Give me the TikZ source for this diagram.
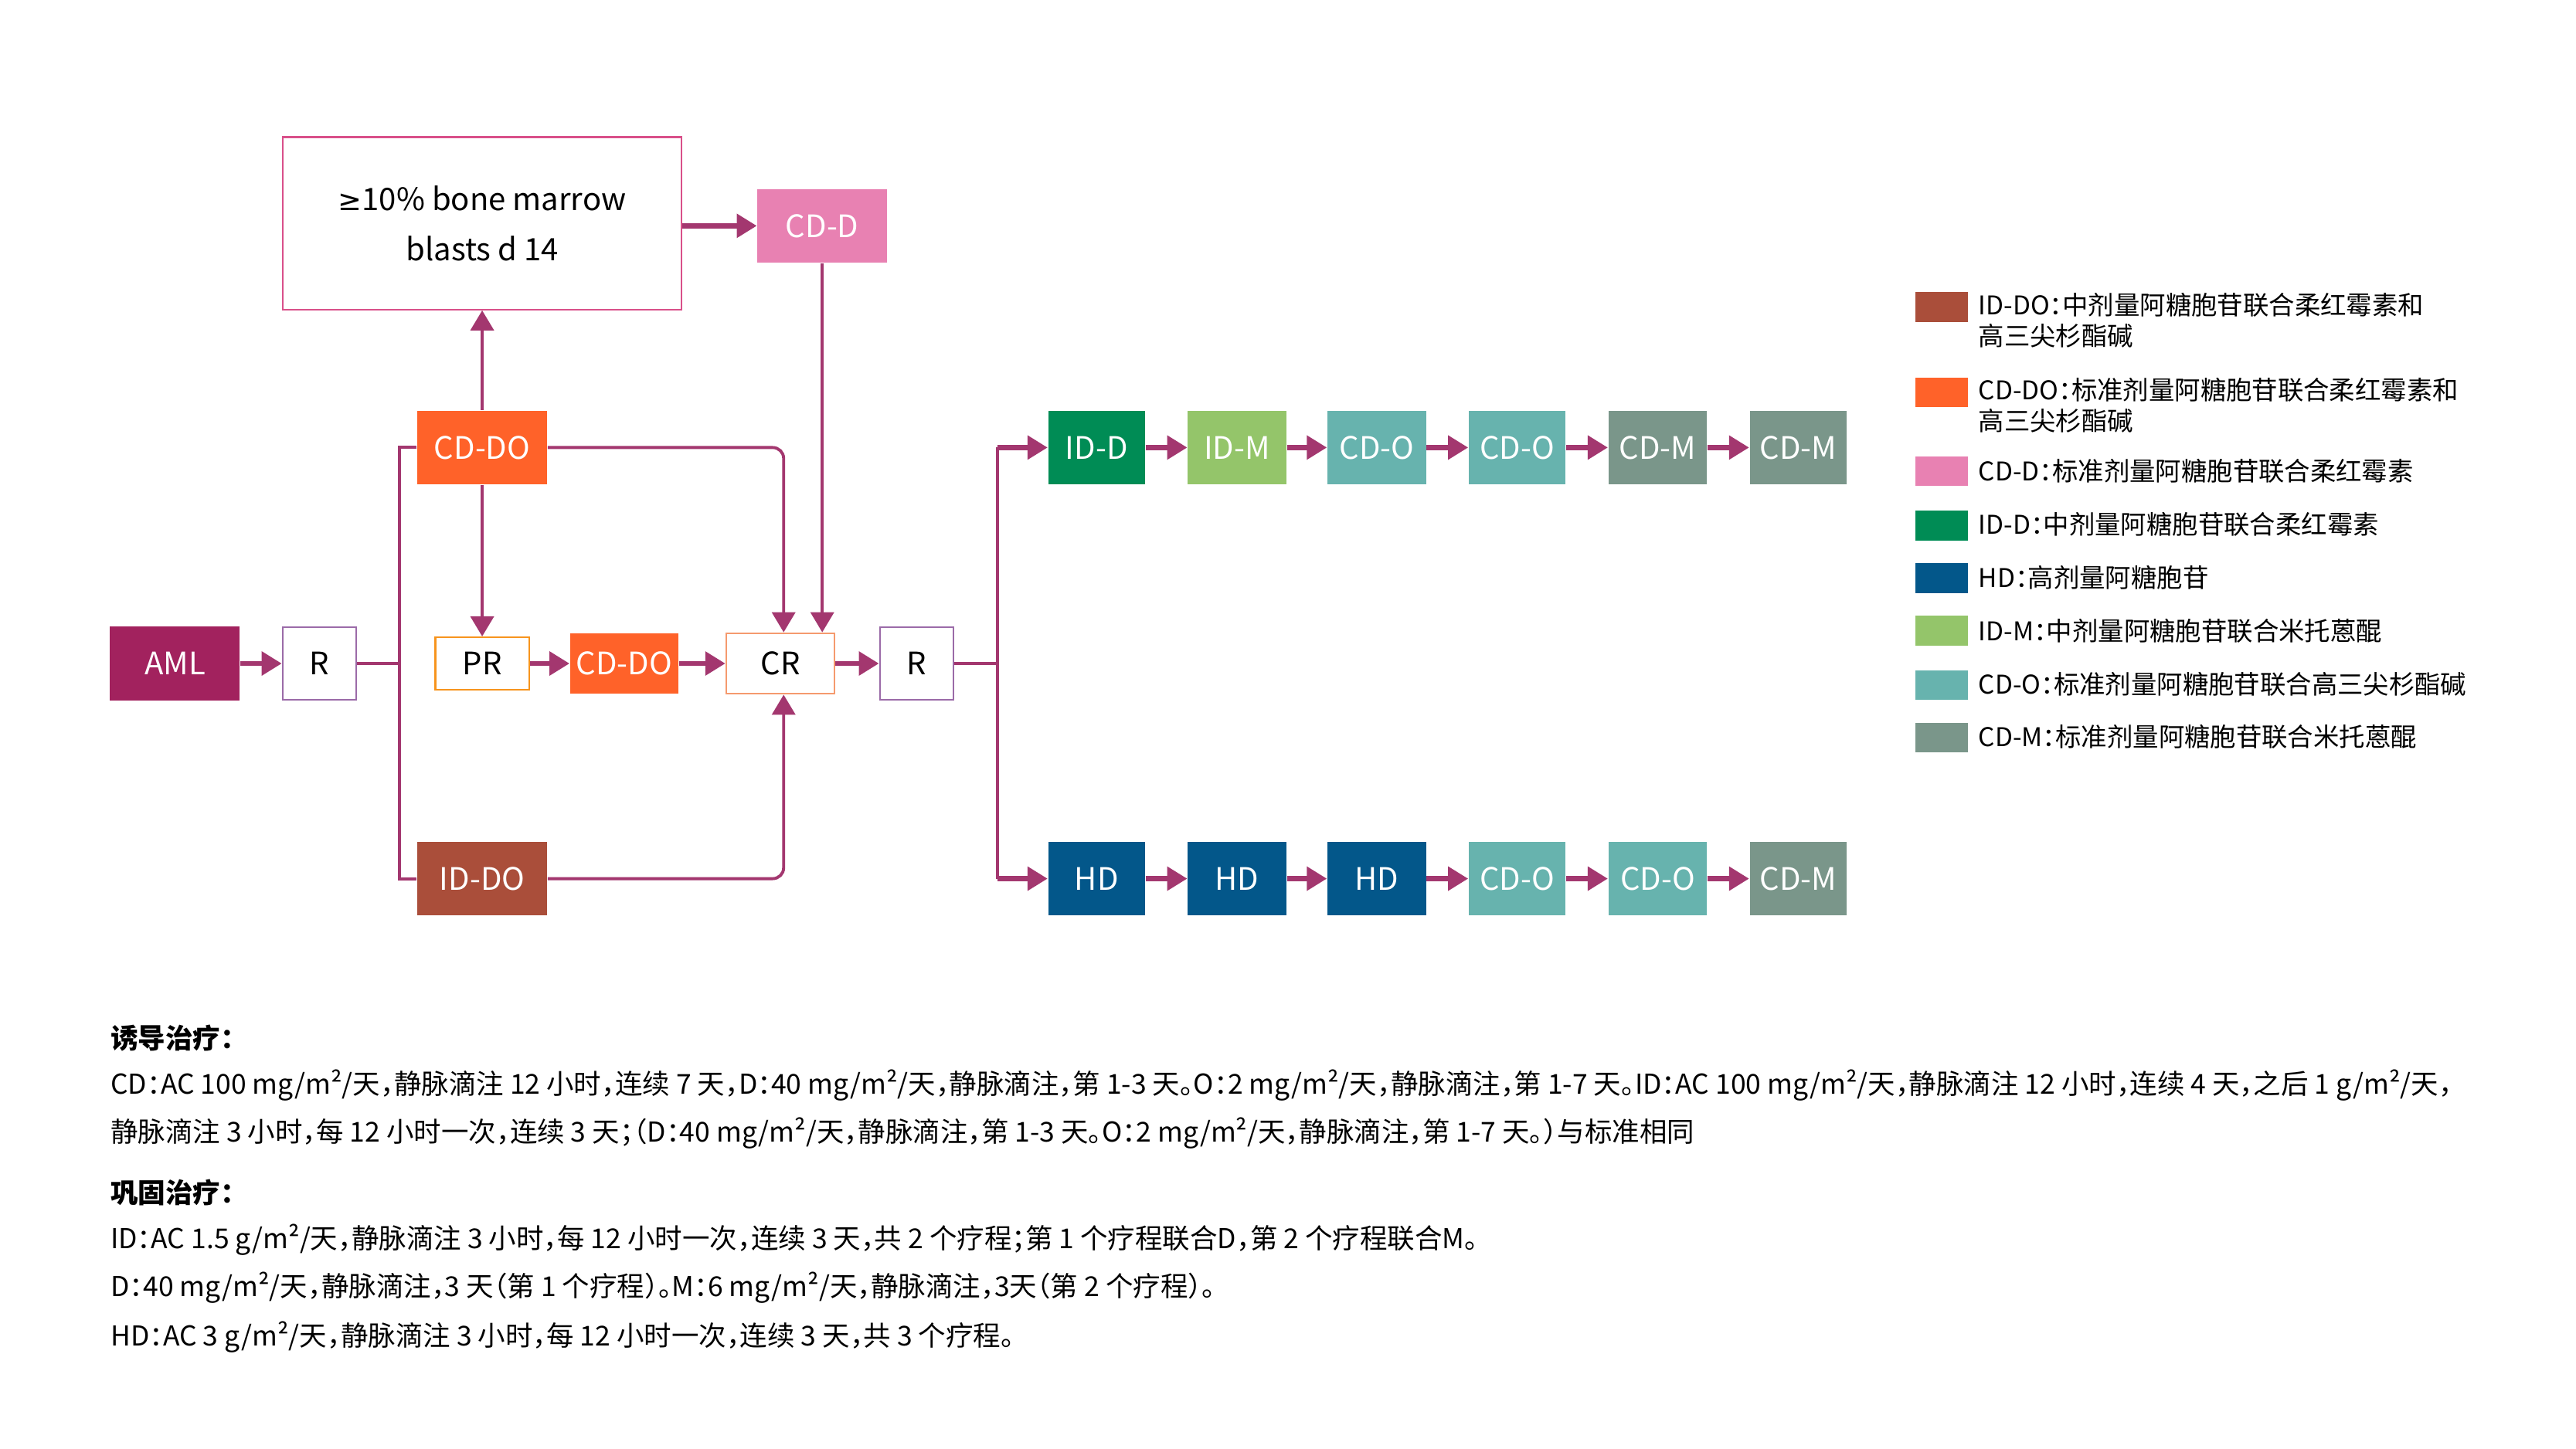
\documentclass[tikz,border=0pt]{standalone}
\usepackage{fontspec}
\setmainfont[CharacterWidth=AlternateHalf]{Noto Sans CJK SC}
\newfontfamily\symf{DejaVu Sans}
\usetikzlibrary{arrows.meta}
\definecolor{lc}{HTML}{A3376F}
\definecolor{amlc}{HTML}{A2225E}
\definecolor{rbor}{HTML}{9B6BA8}
\definecolor{prbor}{HTML}{F7941D}
\definecolor{crbor}{HTML}{F59A6E}
\definecolor{cddoc}{HTML}{FF6229}
\definecolor{iddoc}{HTML}{AA4E3A}
\definecolor{cddc}{HTML}{E881B2}
\definecolor{bigbor}{HTML}{D9508A}
\definecolor{iddc}{HTML}{008C55}
\definecolor{idmc}{HTML}{94C56A}
\definecolor{cdoc}{HTML}{67B3AE}
\definecolor{cdmc}{HTML}{7A968A}
\definecolor{hdc}{HTML}{03578A}
\begin{document}
\begin{tikzpicture}[x=0.21263mm,y=-0.21263mm,
  fbox/.style n args={3}{minimum width=#1*0.21263mm, minimum height=#2*0.21263mm, inner sep=0pt, fill=#3, text=white, font=\fontsize{11.4}{13}\selectfont},
  obox/.style n args={3}{minimum width=#1*0.21263mm, minimum height=#2*0.21263mm, inner sep=0pt, draw=#3, line width=0.6pt, fill=white, text=black, font=\fontsize{11.4}{13}\selectfont},
  conn/.style={draw=lc, line width=1.1pt},
  arr/.style={conn, -{Triangle[length=2.6mm,width=3mm]}},
  sarr/.style={draw=lc, line width=1.8pt, -{Triangle[length=2.6mm,width=3mm]}},
  sw/.style={minimum width=32*0.21263mm, minimum height=18*0.21263mm, inner sep=0pt, fill=#1},
  lgt/.style={anchor=west, inner sep=0pt, align=left, font=\fontsize{9.5}{11.4}\selectfont},
  btx/.style={anchor=west, inner sep=0pt, font=\fontsize{10.1}{12}\selectfont},
  rc/.style={rounded corners=4pt}]
\useasboundingbox (0,0) rectangle (1568,882);

% induction part
\node[fbox={79}{45}{amlc}] (aml) at (106.5,404) {AML};
\node[obox={45}{44}{rbor}] (r1) at (194.5,404) {R};
\node[obox={57}{32}{prbor}] (pr) at (293.5,404) {PR};
\node[fbox={66}{37}{cddoc}] (cddo2) at (380,404) {CD-DO};
\node[obox={66}{37}{crbor}] (cr) at (475,404) {CR};
\node[obox={45}{44}{rbor}] (r2) at (558,404) {R};
\node[fbox={79}{45}{cddoc}] (cddo1) at (293.5,272.5) {CD-DO};
\node[fbox={79}{45}{iddoc}] (iddo) at (293.5,535) {ID-DO};
\node[obox={243}{105}{bigbor}, align=center, font=\fontsize{11.4}{18.5}\selectfont] (big) at (293.5,136) {{\symf\fontsize{10.5}{12}\selectfont ≥}10\% bone marrow\\blasts d 14};
\node[fbox={79}{45}{cddc}] (cdd) at (500.5,137.5) {CD-D};

\coordinate (j1) at (243,404);
\coordinate (j1t) at (243,272.5);
\coordinate (j1b) at (243,535);
\draw[conn] (r1.east) -- (j1);
\draw[conn] (cddo1.west) -- (j1t) -- (j1b) -- (iddo.west);
\draw[sarr] (aml) -- (r1);
\draw[arr] (cddo1) -- (big);
\draw[arr] (cddo1) -- (pr);
\draw[sarr] (big.east |- cdd.west) -- (cdd.west);
\draw[sarr] (pr) -- (cddo2);
\draw[sarr] (cddo2) -- (cr);
\draw[sarr] (cr) -- (r2);
\coordinate (crl) at (477,404);
\draw[arr, rc] (cddo1.east) -| (cr.north -| crl);
\draw[arr] (cdd.south) -- (cdd.south |- cr.north);
\draw[arr, rc] (iddo.east) -| (cr.south -| crl);

% consolidation
\node[fbox={59}{45}{iddc}] (a1) at (667.5,272.5) {ID-D};
\node[fbox={60}{45}{idmc}] (a2) at (753,272.5) {ID-M};
\node[fbox={60}{45}{cdoc}] (a3) at (838,272.5) {CD-O};
\node[fbox={59}{45}{cdoc}] (a4) at (923.5,272.5) {CD-O};
\node[fbox={60}{45}{cdmc}] (a5) at (1009,272.5) {CD-M};
\node[fbox={59}{45}{cdmc}] (a6) at (1094.5,272.5) {CD-M};
\node[fbox={59}{45}{hdc}] (b1) at (667.5,535) {HD};
\node[fbox={60}{45}{hdc}] (b2) at (753,535) {HD};
\node[fbox={60}{45}{hdc}] (b3) at (838,535) {HD};
\node[fbox={59}{45}{cdoc}] (b4) at (923.5,535) {CD-O};
\node[fbox={60}{45}{cdoc}] (b5) at (1009,535) {CD-O};
\node[fbox={59}{45}{cdmc}] (b6) at (1094.5,535) {CD-M};

\coordinate (j2) at (607,404);
\coordinate (j2t) at (607,272.5);
\coordinate (j2b) at (607,535);
\draw[conn] (r2.east) -- (j2);
\draw[conn] (j2t) -- (j2b);
\draw[sarr] (j2t) -- (a1);
\draw[sarr] (j2b) -- (b1);
\foreach \p/\q in {a1/a2,a2/a3,a3/a4,a4/a5,a5/a6,b1/b2,b2/b3,b3/b4,b4/b5,b5/b6}
  \draw[sarr] (\p) -- (\q);

% legend
\node[sw=iddoc] (s1) at (1182,187) {};
\node[lgt] (t1) at (1204,195) {ID-DO：中剂量阿糖胞苷联合柔红霉素和\\高三尖杉酯碱};
\node[sw=cddoc] (s2) at (1182,239) {};
\node[lgt] (t2) at (1204,247) {CD-DO：标准剂量阿糖胞苷联合柔红霉素和\\高三尖杉酯碱};
\node[sw=cddc] (s3) at (1182,287) {};
\node[lgt] (t3) at (1204,287) {CD-D：标准剂量阿糖胞苷联合柔红霉素};
\node[sw=iddc] (s4) at (1182,320) {};
\node[lgt] (t4) at (1204,319.5) {ID-D：中剂量阿糖胞苷联合柔红霉素};
\node[sw=hdc] (s5) at (1182,352) {};
\node[lgt] (t5) at (1204,351.5) {HD：高剂量阿糖胞苷};
\node[sw=idmc] (s6) at (1182,384) {};
\node[lgt] (t6) at (1204,384) {ID-M：中剂量阿糖胞苷联合米托蒽醌};
\node[sw=cdoc] (s7) at (1182,417) {};
\node[lgt] (t7) at (1204,416.5) {CD-O：标准剂量阿糖胞苷联合高三尖杉酯碱};
\node[sw=cdmc] (s8) at (1182,449) {};
\node[lgt] (t8) at (1204,448.5) {CD-M：标准剂量阿糖胞苷联合米托蒽醌};

% bottom text
\node[btx, font=\fontsize{10.1}{12}\selectfont\bfseries] (h1) at (67,632) {诱导治疗：};
\node[btx] (l1) at (67,661) {CD：AC 100 mg/m²/天，静脉滴注 12 小时，连续 7 天，D：40 mg/m²/天，静脉滴注，第 1-3 天。O：2 mg/m²/天，静脉滴注，第 1-7 天。ID：AC 100 mg/m²/天，静脉滴注 12 小时，连续 4 天，之后 1 g/m²/天，};
\node[btx] (l2) at (67,690) {静脉滴注 3 小时，每 12 小时一次，连续 3 天；（D：40 mg/m²/天，静脉滴注，第 1-3 天。O：2 mg/m²/天，静脉滴注，第 1-7 天。）与标准相同};
\node[btx, font=\fontsize{10.1}{12}\selectfont\bfseries] (h2) at (67,726) {巩固治疗：};
\node[btx] (l3) at (67,755) {ID：AC 1.5 g/m²/天，静脉滴注 3 小时，每 12 小时一次，连续 3 天，共 2 个疗程；第 1 个疗程联合D，第 2 个疗程联合M。};
\node[btx] (l4) at (67,784) {D：40 mg/m²/天，静脉滴注，3 天（第 1 个疗程）。M：6 mg/m²/天，静脉滴注，3天（第 2 个疗程）。};
\node[btx] (l5) at (67,814) {HD：AC 3 g/m²/天，静脉滴注 3 小时，每 12 小时一次，连续 3 天，共 3 个疗程。};
\end{tikzpicture}
\end{document}
